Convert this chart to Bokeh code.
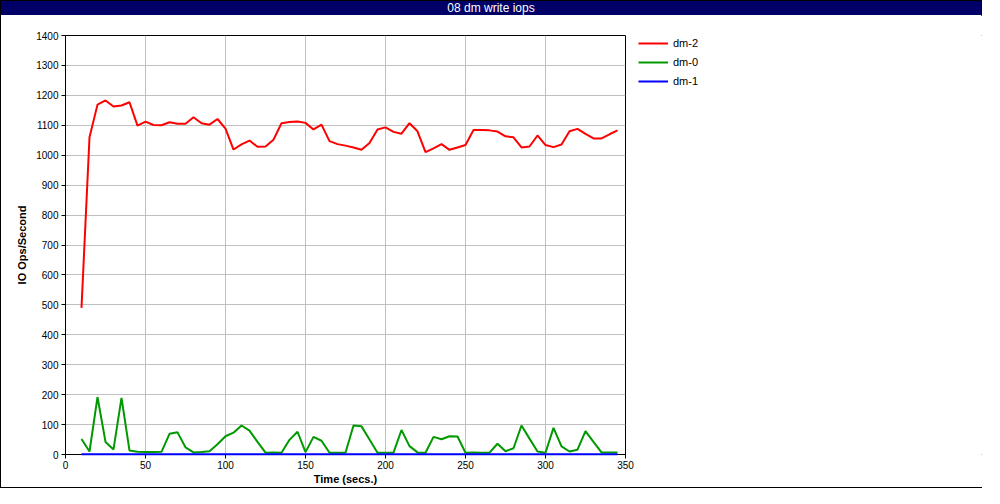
from bokeh.plotting import figure
from bokeh.models import Range1d, FixedTicker, Legend, LegendItem, Div
from bokeh.layouts import column, row
from bokeh.embed import file_html
from bokeh.resources import INLINE

# ---------------- data ----------------
time_secs = [10, 15, 20, 25, 30, 35, 40, 45, 50, 55, 60, 65, 70, 75, 80, 85,
             90, 95, 100, 105, 110, 115, 120, 125, 130, 135, 140, 145, 150,
             155, 160, 165, 170, 175, 180, 185, 190, 195, 200, 205, 210, 215,
             220, 225, 230, 235, 240, 245, 250, 255, 260, 265, 270, 275, 280,
             285, 290, 295, 300, 305, 310, 315, 320, 325, 330, 335, 340, 345]

dm2 = [490, 1060, 1169, 1183, 1163, 1166, 1177, 1099, 1112, 1101, 1100, 1110,
       1105, 1105, 1127, 1107, 1102, 1121, 1089, 1019, 1036, 1049, 1028, 1029,
       1052, 1107, 1111, 1113, 1108, 1086, 1102, 1047, 1037, 1032, 1026, 1018,
       1041, 1086, 1093, 1078, 1072, 1107, 1080, 1010, 1023, 1037, 1018, 1026,
       1034, 1084, 1084, 1083, 1079, 1063, 1060, 1026, 1029, 1066, 1034, 1027,
       1036, 1080, 1088, 1071, 1056, 1056, 1070, 1083]

dm0 = [52, 10, 192, 42, 17, 189, 13, 9, 8, 8, 9, 69, 74, 24, 7, 8, 11, 34, 61,
       73, 97, 80, 42, 6, 7, 6, 49, 76, 8, 59, 46, 6, 6, 6, 97, 94, 50, 6, 6,
       6, 82, 28, 7, 6, 59, 51, 61, 60, 6, 7, 6, 6, 36, 11, 21, 97, 53, 10, 6,
       89, 27, 10, 16, 78, 42, 7, 7, 7]

dm1 = [1, 1, 1, 1, 1, 1, 1, 1, 1, 1, 1, 1, 1, 1, 1, 1, 1, 1, 1, 1, 1, 1, 1,
       1, 1, 1, 1, 1, 1, 1, 1, 1, 1, 1, 1, 1, 1, 1, 1, 1, 1, 1, 1, 1, 1, 1, 1,
       1, 1, 1, 1, 1, 1, 1, 1, 1, 1, 1, 1, 1, 1, 1, 1, 1, 1, 1, 1, 1]

series_names = ["dm-2", "dm-0", "dm-1"]
series_colors = ["#ff0000", "#009900", "#0000ff"]
x_ticks = [0, 50, 100, 150, 200, 250, 300, 350]
y_ticks = [0, 100, 200, 300, 400, 500, 600, 700, 800, 900, 1000, 1100, 1200,
           1300, 1400]
title_text = "08 dm write iops"
x_label = "Time (secs.)"
y_label = "IO Ops/Second"

# ---------------- layout ----------------
W = 982          # inner width (plus 1px border each side)
BAR_H = 14
FIG_H = 472
PLOT_W = 636
FONT = "Liberation Sans"

bar = Div(text=title_text, width=W, height=BAR_H,
          styles={"background-color": "#000066", "color": "white",
                  "text-align": "center", "font-family": FONT,
                  "font-size": "12px", "line-height": "14px",
                  "margin": "0", "padding": "0", "overflow": "hidden"})

p = figure(width=PLOT_W, height=FIG_H, output_backend="svg",
           toolbar_location=None,
           x_range=Range1d(0, 350), y_range=Range1d(0, 1400),
           min_border_left=64, min_border_right=PLOT_W - 64 - 560,
           min_border_top=20, min_border_bottom=32,
           background_fill_color="white", border_fill_color="white")

p.outline_line_color = "black"
p.outline_line_width = 1

p.xaxis.ticker = FixedTicker(ticks=x_ticks)
p.yaxis.ticker = FixedTicker(ticks=y_ticks)
p.xgrid.ticker = FixedTicker(ticks=x_ticks)
p.ygrid.ticker = FixedTicker(ticks=y_ticks)
for g in (p.xgrid[0], p.ygrid[0]):
    g.grid_line_color = "#c0c0c0"
    g.grid_line_width = 1

p.xaxis.axis_label = x_label
p.yaxis.axis_label = y_label
for ax in (p.xaxis[0], p.yaxis[0]):
    ax.major_tick_in = 0
    ax.major_tick_out = 4
    ax.minor_tick_line_color = None
    ax.axis_line_color = "black"
    ax.major_tick_line_color = "black"
    ax.major_label_text_font = FONT
    ax.major_label_text_font_size = "10px"
    ax.major_label_text_color = "black"
    ax.axis_label_text_font = FONT
    ax.axis_label_text_font_style = "bold"
    ax.axis_label_text_font_size = "11px"
    ax.axis_label_text_color = "black"
p.yaxis.major_label_standoff = 3
p.xaxis.major_label_standoff = 2
p.yaxis.axis_label_standoff = 5
p.xaxis.axis_label_standoff = 1

for ys, col in zip([dm2, dm0, dm1], series_colors):
    r = p.line(time_secs, ys, line_color=col, line_width=2)
    r.level = "overlay"   # drawn above the axis line, as in the original

# legend lives in a second, axis-less figure to the right of the plot
# (its frame is aligned with the main plot's frame by the row layout)
lg = figure(width=W - PLOT_W, height=FIG_H, output_backend="svg",
            toolbar_location=None, x_axis_type=None, y_axis_type=None,
            x_range=Range1d(0, 1), y_range=Range1d(0, 1),
            min_border_left=0, min_border_right=0,
            min_border_top=0, min_border_bottom=0,
            background_fill_color="white", border_fill_color="white")
lg.outline_line_color = None
lg.grid.visible = False

items = []
for name, ys, col in zip(series_names, [dm2, dm0, dm1], series_colors):
    # same series; they fall outside this figure's ranges, so only the legend shows
    r = lg.line(time_secs, ys, line_color=col, line_width=2)
    items.append(LegendItem(label=name, renderers=[r]))

legend = Legend(items=items, location=(1, 365), padding=0, margin=0,
                spacing=3, glyph_width=30, glyph_height=16, label_height=16,
                label_standoff=5, border_line_color=None,
                background_fill_alpha=0,
                label_text_font=FONT, label_text_font_size="11px",
                label_text_color="black")
lg.add_layout(legend)

layout = column(bar, row(p, lg, spacing=0), spacing=0, width=W,
                styles={"border": "1px solid black"})

open("out.html", "w").write(file_html(layout, INLINE))
